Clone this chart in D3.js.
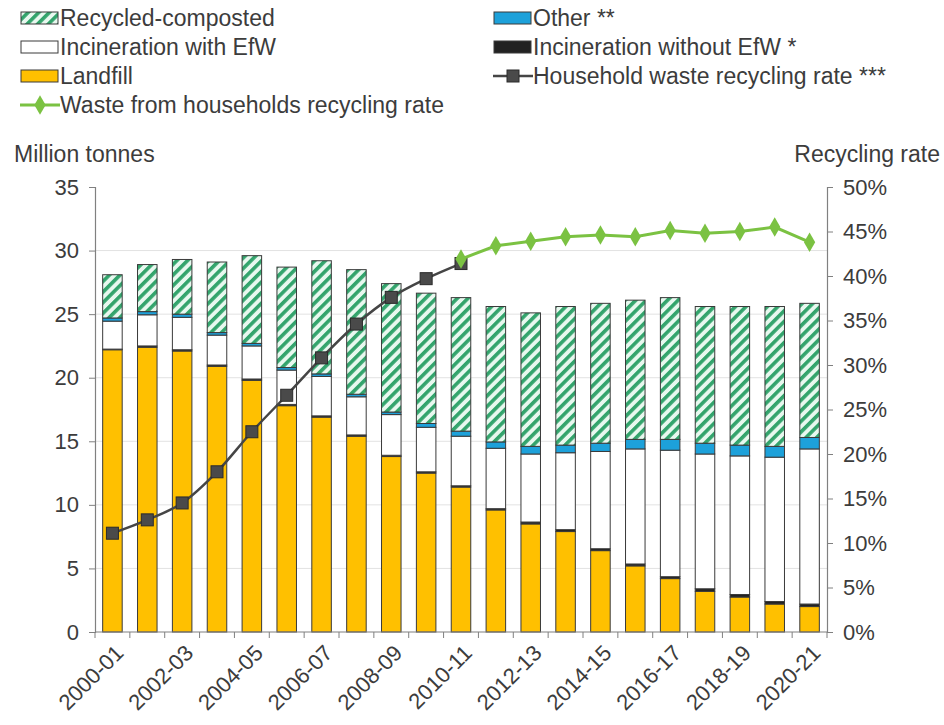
<!DOCTYPE html>
<html>
<head>
<meta charset="utf-8">
<script src="https://cdn.jsdelivr.net/npm/d3@7"></script>
<style>
  html, body { margin: 0; padding: 0; background: #fff; }
  svg { display: block; font-family: "Liberation Sans", Arial, sans-serif; }
</style>
</head>
<body>
<svg id="chart" width="944" height="725"></svg>
<script>
// Local authority collected waste management by method (million tonnes)
const categories = ["2000-01","2001-02","2002-03","2003-04","2004-05","2005-06","2006-07",
  "2007-08","2008-09","2009-10","2010-11","2011-12","2012-13","2013-14","2014-15",
  "2015-16","2016-17","2017-18","2018-19","2019-20","2020-21"];

const landfill   = [22.2, 22.4, 22.1, 20.9, 19.8, 17.8, 16.9, 15.4, 13.8, 12.5, 11.4,
                    9.6, 8.5, 7.9, 6.4, 5.2, 4.2, 3.2, 2.75, 2.2, 2.0];
const incinNoEfW = [0.05, 0.1, 0.1, 0.1, 0.1, 0.1, 0.1, 0.1, 0.1, 0.1, 0.1,
                    0.1, 0.15, 0.15, 0.15, 0.15, 0.15, 0.2, 0.2, 0.2, 0.2];
const incinEfW   = [2.2, 2.45, 2.55, 2.35, 2.6, 2.7, 3.1, 3.0, 3.2, 3.5, 3.9,
                    4.75, 5.35, 6.05, 7.65, 9.05, 9.95, 10.6, 10.9, 11.35, 12.2];
const other      = [0.25, 0.25, 0.25, 0.2, 0.2, 0.2, 0.2, 0.2, 0.2, 0.3, 0.4,
                    0.5, 0.6, 0.6, 0.65, 0.75, 0.85, 0.85, 0.85, 0.85, 0.9];
const recycled   = [3.4, 3.7, 4.3, 5.55, 6.9, 7.9, 8.9, 9.8, 10.1, 10.25, 10.5,
                    10.65, 10.5, 10.9, 11.0, 10.95, 11.15, 10.75, 10.9, 11.0, 10.55];

// Recycling rates (%)
const householdRateYears = categories.slice(0, 11);
const householdRate = [11.1, 12.6, 14.5, 18.0, 22.5, 26.6, 30.8, 34.6, 37.6, 39.7, 41.4];
const wfhRateYears = categories.slice(10);
const wfhRate = [41.9, 43.4, 43.9, 44.4, 44.6, 44.4, 45.1, 44.8, 45.0, 45.5, 43.8];

const leftTicks = [0, 5, 10, 15, 20, 25, 30, 35];
const rightTicks = [0, 5, 10, 15, 20, 25, 30, 35, 40, 45, 50];
const xLabels = categories.filter((d, i) => i % 2 === 0);

const seriesKeys = ["landfill", "incinNoEfW", "incinEfW", "other", "recycled"];
const seriesValues = { landfill, incinNoEfW, incinEfW, other, recycled };
const rows = categories.map((c, i) => {
  const r = { category: c };
  seriesKeys.forEach(k => r[k] = seriesValues[k][i]);
  return r;
});

const textColor = "#3C3C3C";
const axisColor = "#808080";
const fontSize = 23;
const fills = {
  landfill: "#FFC000",
  incinNoEfW: "#222222",
  incinEfW: "#FFFFFF",
  other: "#1DA1DA",
  recycled: "url(#hatch)"
};

const svg = d3.select("#chart");
const defs = svg.append("defs");
const pat = defs.append("pattern")
  .attr("id", "hatch")
  .attr("patternUnits", "userSpaceOnUse")
  .attr("width", 7.5).attr("height", 7.5)
  .attr("patternTransform", "rotate(45)");
pat.append("rect").attr("width", 7.5).attr("height", 7.5).attr("fill", "#E8F8EF");
pat.append("rect").attr("width", 3.6).attr("height", 7.5).attr("fill", "#33A46C");

const plot = { left: 95, right: 827, top: 187, bottom: 632 };

const x = d3.scaleBand()
  .domain(categories)
  .range([plot.left, plot.right])
  .paddingInner(0.44)
  .paddingOuter(0.22);

const y = d3.scaleLinear().domain([0, 35]).range([plot.bottom, plot.top]);
const yR = d3.scaleLinear().domain([0, 50]).range([plot.bottom, plot.top]);

// Gridlines
svg.append("g")
  .selectAll("line")
  .data(leftTicks.filter(t => t > 0 && t < 35))
  .join("line")
  .attr("x1", plot.left).attr("x2", plot.right)
  .attr("y1", d => y(d)).attr("y2", d => y(d))
  .attr("stroke", "#E2E2E2").attr("stroke-width", 1);

// Stacked bars
const stack = d3.stack().keys(seriesKeys)(rows);
svg.append("g")
  .selectAll("g")
  .data(stack)
  .join("g")
  .attr("fill", d => fills[d.key])
  .selectAll("rect")
  .data(d => d)
  .join("rect")
  .attr("x", d => x(d.data.category))
  .attr("width", x.bandwidth())
  .attr("y", d => y(d[1]))
  .attr("height", d => y(d[0]) - y(d[1]))
  .attr("stroke", "#3A3A3A")
  .attr("stroke-width", 1);

// Left axis
const leftAxis = d3.axisLeft(y).tickValues(leftTicks).tickSize(6).tickPadding(10).tickFormat(d3.format("d"));
const gL = svg.append("g").attr("transform", `translate(${plot.left},0)`).call(leftAxis);

// Right axis
const rightAxis = d3.axisRight(yR).tickValues(rightTicks).tickSize(6).tickPadding(10).tickFormat(d => d + "%");
const gR = svg.append("g").attr("transform", `translate(${plot.right},0)`).call(rightAxis);

// Bottom axis: ticks on band boundaries, labels every second year
const gB = svg.append("g").attr("transform", `translate(0,${plot.bottom})`);
gB.append("line").attr("x1", plot.left).attr("x2", plot.right)
  .attr("stroke", axisColor).attr("stroke-width", 1.2);
const boundaries = categories.map(c => x(c) - x.step() * x.paddingInner() / 2);
boundaries.push(plot.right);
gB.selectAll("line.tick")
  .data(boundaries)
  .join("line")
  .attr("class", "tick")
  .attr("x1", d => d).attr("x2", d => d)
  .attr("y1", 0).attr("y2", 6)
  .attr("stroke", axisColor);
gB.selectAll("text")
  .data(xLabels)
  .join("text")
  .attr("transform", d => `translate(${x(d) + x.bandwidth() / 2 + 7},${17}) rotate(-45)`)
  .attr("text-anchor", "end")
  .attr("dy", "0.35em")
  .attr("font-size", fontSize - 1)
  .attr("fill", textColor)
  .text(d => d);

[gL, gR].forEach(g => {
  g.select(".domain").attr("stroke", axisColor).attr("stroke-width", 1.2);
  g.selectAll(".tick line").attr("stroke", axisColor);
  g.selectAll(".tick text").attr("font-size", fontSize - 1).attr("fill", textColor)
    .attr("font-family", "Liberation Sans, Arial, sans-serif");
});

// Axis titles
svg.append("text").attr("x", 14).attr("y", 162).attr("font-size", fontSize)
  .attr("fill", textColor).text("Million tonnes");
svg.append("text").attr("x", 940).attr("y", 162).attr("font-size", fontSize)
  .attr("text-anchor", "end").attr("fill", textColor).text("Recycling rate");

// Household waste recycling rate line
const cx = d => x(d) + x.bandwidth() / 2;
const lineH = d3.line().x((d, i) => cx(householdRateYears[i])).y(d => yR(d)).curve(d3.curveMonotoneX);
svg.append("path").datum(householdRate).attr("d", lineH)
  .attr("fill", "none").attr("stroke", "#454545").attr("stroke-width", 2.5);
svg.append("g").selectAll("rect")
  .data(householdRate)
  .join("rect")
  .attr("x", (d, i) => cx(householdRateYears[i]) - 6)
  .attr("y", d => yR(d) - 6)
  .attr("width", 12).attr("height", 12)
  .attr("fill", "#4A4A4A").attr("stroke", "#2A2A2A").attr("stroke-width", 1);

// Waste from households recycling rate line
const lineW = d3.line().x((d, i) => cx(wfhRateYears[i])).y(d => yR(d));
svg.append("path").datum(wfhRate).attr("d", lineW)
  .attr("fill", "none").attr("stroke", "#7BC242").attr("stroke-width", 3);
const diamond = d3.symbol().type(d3.symbolDiamond).size(110);
svg.append("g").selectAll("path")
  .data(wfhRate)
  .join("path")
  .attr("transform", (d, i) => `translate(${cx(wfhRateYears[i])},${yR(d)})`)
  .attr("d", diamond)
  .attr("fill", "#7BC242");

// Legend
const legendItems = [
  { label: "Recycled-composted", type: "box", fill: "url(#hatch)", col: 0, row: 0 },
  { label: "Incineration with EfW", type: "box", fill: "#FFFFFF", col: 0, row: 1 },
  { label: "Landfill", type: "box", fill: "#FFC000", col: 0, row: 2 },
  { label: "Waste from households recycling rate", type: "diamond", col: 0, row: 3 },
  { label: "Other **", type: "box", fill: "#1DA1DA", col: 1, row: 0 },
  { label: "Incineration without EfW *", type: "box", fill: "#222222", col: 1, row: 1 },
  { label: "Household waste recycling rate ***", type: "square", col: 1, row: 2 }
];
const colX = [20, 493];
const rowY = [18, 47, 76, 105];
const legend = svg.append("g");
legendItems.forEach(it => {
  const g = legend.append("g").attr("transform", `translate(${colX[it.col]},${rowY[it.row]})`);
  if (it.type === "box") {
    g.append("rect").attr("x", 1).attr("y", -6).attr("width", 37).attr("height", 12)
      .attr("fill", it.fill).attr("stroke", "#3A3A3A").attr("stroke-width", 1);
  } else if (it.type === "square") {
    g.append("line").attr("x1", 0).attr("x2", 40).attr("stroke", "#454545").attr("stroke-width", 2.5);
    g.append("rect").attr("x", 14).attr("y", -6).attr("width", 12).attr("height", 12)
      .attr("fill", "#4A4A4A").attr("stroke", "#2A2A2A");
  } else {
    g.append("line").attr("x1", 0).attr("x2", 40).attr("stroke", "#7BC242").attr("stroke-width", 3);
    g.append("path").attr("transform", "translate(20,0)").attr("d", diamond).attr("fill", "#7BC242");
  }
  g.append("text").attr("x", 40).attr("y", 0).attr("dy", "0.35em")
    .attr("font-size", fontSize).attr("fill", textColor).text(it.label);
});
</script>
</body>
</html>
